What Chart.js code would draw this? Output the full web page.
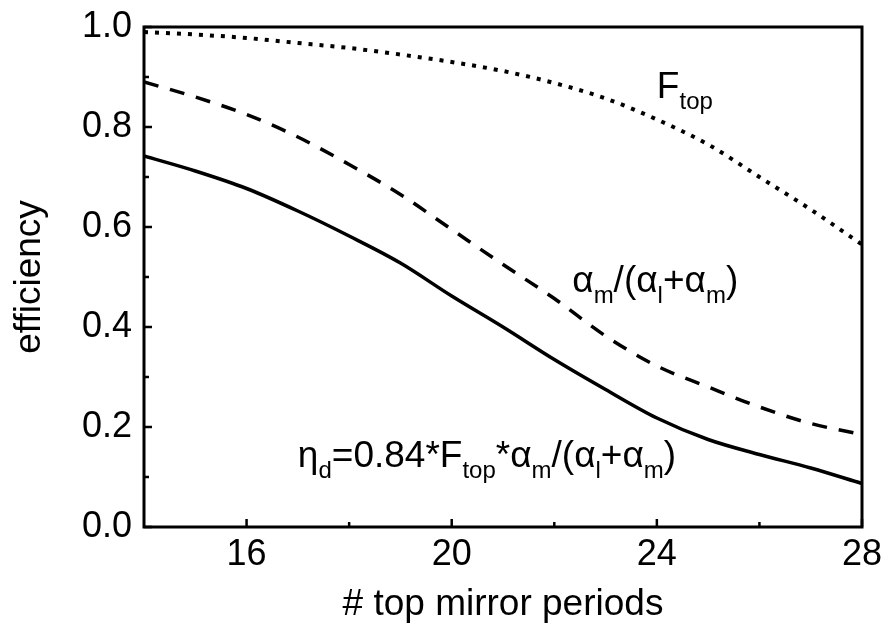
<!DOCTYPE html>
<html>
<head>
<meta charset="utf-8">
<script src="https://cdn.jsdelivr.net/npm/chart.js@4"></script>
<style>
  body { margin: 0; background: #fff; }
  #wrap { width: 885px; height: 635px; }
</style>
</head>
<body>
<div id="wrap"><canvas id="c"></canvas></div>
<script>
// number of top DBR mirror periods
const periods = [14, 15, 16, 17, 18, 19, 20, 21, 22, 23, 24, 25, 26, 27, 28];
// top mirror transmission factor F_top
const fTop = [0.99, 0.985, 0.978, 0.968, 0.958, 0.945, 0.93, 0.912, 0.888, 0.857, 0.815, 0.765, 0.70, 0.635, 0.565];
// alpha_m / (alpha_i + alpha_m)
const mirrorLossRatio = [0.89, 0.86, 0.825, 0.78, 0.725, 0.665, 0.595, 0.525, 0.457, 0.382, 0.322, 0.28, 0.24, 0.207, 0.185];
// differential efficiency eta_d
const etaD = [0.742, 0.712, 0.677, 0.632, 0.582, 0.528, 0.462, 0.40, 0.335, 0.275, 0.218, 0.175, 0.145, 0.118, 0.087];

const xTicks = [16, 20, 24, 28];
const xMinorTicks = [18, 22, 26];
const yTicks = [0, 0.2, 0.4, 0.6, 0.8, 1.0];
const yMinorTicks = [0.1, 0.3, 0.5, 0.7, 0.9];

const FONT = '"Liberation Sans", Arial, sans-serif';

// curve labels: [x, y] anchor in data units, then text runs (second item = subscript)
const curveLabels = [
  { at: [24.0, 0.858], parts: [['F'], ['top', 1]] },
  { at: [22.35, 0.47], parts: [['α'], ['m', 1], ['/(α'], ['l', 1], ['+α'], ['m', 1], [')']] },
  { at: [17.0, 0.12], parts: [['η'], ['d', 1], ['=0.84*F'], ['top', 1], ['*α'], ['m', 1], ['/(α'], ['l', 1], ['+α'], ['m', 1], [')']] }
];

const frameAndLabels = {
  id: 'frameAndLabels',
  afterDatasetsDraw(chart) {
    const { ctx, chartArea: a, scales: { x, y } } = chart;
    ctx.save();
    ctx.strokeStyle = '#000';
    ctx.lineWidth = 3;
    ctx.strokeRect(a.left, a.top, a.right - a.left, a.bottom - a.top);

    // inward tick marks on bottom and left axes
    ctx.lineWidth = 2.5;
    const tick = (x1, y1, x2, y2) => { ctx.beginPath(); ctx.moveTo(x1, y1); ctx.lineTo(x2, y2); ctx.stroke(); };
    xTicks.forEach(v => { const px = x.getPixelForValue(v); tick(px, a.bottom, px, a.bottom - 8); });
    xMinorTicks.forEach(v => { const px = x.getPixelForValue(v); tick(px, a.bottom, px, a.bottom - 5); });
    yTicks.forEach(v => { const py = y.getPixelForValue(v); tick(a.left, py, a.left + 8, py); });
    yMinorTicks.forEach(v => { const py = y.getPixelForValue(v); tick(a.left, py, a.left + 5, py); });

    ctx.fillStyle = '#000';
    ctx.textBaseline = 'alphabetic';
    ctx.textAlign = 'left';
    curveLabels.forEach(lbl => {
      let cx = x.getPixelForValue(lbl.at[0]);
      const by = y.getPixelForValue(lbl.at[1]);
      lbl.parts.forEach(([text, sub]) => {
        ctx.font = sub ? `24px ${FONT}` : `37px ${FONT}`;
        ctx.fillText(text, cx, sub ? by + 11 : by);
        cx += ctx.measureText(text).width;
      });
    });
    ctx.restore();
  }
};

const lineStyle = { pointRadius: 0, borderColor: '#000', fill: false, cubicInterpolationMode: 'monotone' };

new Chart(document.getElementById('c'), {
  type: 'line',
  data: {
    labels: periods,
    datasets: [
      { ...lineStyle, label: 'F_top', data: periods.map((p, i) => ({ x: p, y: fTop[i] })), borderWidth: 4, borderDash: [4, 7] },
      { ...lineStyle, label: 'alpha ratio', data: periods.map((p, i) => ({ x: p, y: mirrorLossRatio[i] })), borderWidth: 3.5, borderDash: [15, 12] },
      { ...lineStyle, label: 'eta_d', data: periods.map((p, i) => ({ x: p, y: etaD[i] })), borderWidth: 3.5 }
    ]
  },
  options: {
    responsive: true,
    maintainAspectRatio: false,
    animation: false,
    layout: { padding: { top: 27, right: 23, left: 0, bottom: 0 } },
    plugins: { legend: { display: false }, tooltip: { enabled: false } },
    scales: {
      x: {
        type: 'linear',
        min: 14,
        max: 28,
        afterBuildTicks: s => { s.ticks = xTicks.map(v => ({ value: v })); },
        afterFit: s => { s.height = 108; s.paddingLeft = 0; s.paddingRight = 0; },
        grid: { display: false, drawTicks: false },
        border: { display: false },
        ticks: { color: '#000', font: { family: FONT, size: 36 }, padding: 6 },
        title: { display: true, text: '# top mirror periods', color: '#000', font: { family: FONT, size: 37 }, padding: { top: 0, bottom: 8 } }
      },
      y: {
        min: 0,
        max: 1,
        afterBuildTicks: s => { s.ticks = yTicks.map(v => ({ value: v })); },
        afterFit: s => { s.width = 144; s.paddingTop = 0; s.paddingBottom = 0; },
        grid: { display: false, drawTicks: false },
        border: { display: false },
        ticks: { color: '#000', font: { family: FONT, size: 36 }, padding: 12, callback: v => v.toFixed(1) },
        title: { display: true, text: 'efficiency', color: '#000', font: { family: FONT, size: 37 }, padding: { top: 8, bottom: 0 } }
      }
    }
  },
  plugins: [frameAndLabels]
});
</script>
</body>
</html>
